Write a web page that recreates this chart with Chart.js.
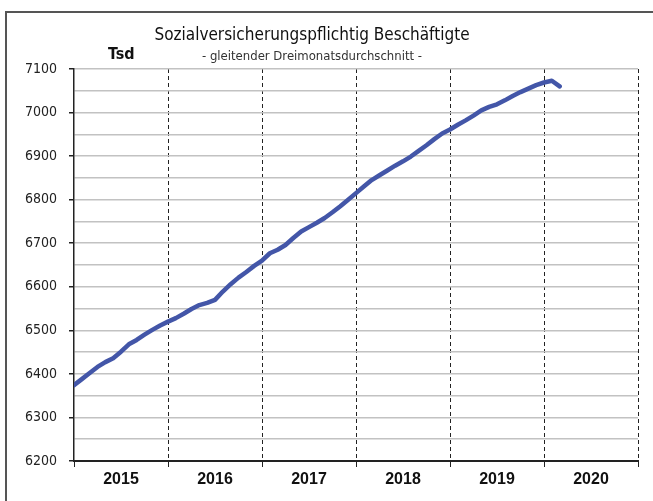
<!DOCTYPE html>
<html>
<head>
<meta charset="utf-8">
<script src="https://cdn.jsdelivr.net/npm/chart.js@4/dist/chart.umd.min.js"></script>
<style>
  html, body { margin: 0; padding: 0; background: #fff; overflow: hidden; }
  #wrap { position: relative; width: 653px; height: 501px; }
  #frame { position: absolute; left: 5px; top: 11px; width: 700px; height: 600px; border: 2px solid #555; box-sizing: border-box; }
  #chart { position: absolute; left: 0; top: 0; }
  .txt { position: absolute; white-space: nowrap; color: #111; font-family: "Liberation Sans Narrow", "DejaVu Sans Condensed", sans-serif; }
  #title { left: 0; width: 624px; text-align: center; top: 24px; font-size: 17px; }
  #sub { left: 0; width: 624px; text-align: center; top: 48px; font-size: 13px; color: #333; }
  #unit { left: 108px; top: 44px; font-size: 16px; font-weight: bold; }
</style>
</head>
<body>
<div id="wrap">
  <div id="frame"></div>
  <canvas id="chart" width="653" height="501"></canvas>
  <div class="txt" id="title">Sozialversicherungspflichtig Beschäftigte</div>
  <div class="txt" id="sub">- gleitender Dreimonatsdurchschnitt -</div>
  <div class="txt" id="unit">Tsd</div>
</div>
<script>
    // monthly values (Tsd), Jan 2015 .. Mar 2020
    const employed = [
        6374, 6388, 6402, 6416, 6427, 6436, 6451, 6468, 6478, 6490, 6501, 6511,
        6520, 6528, 6538, 6549, 6558, 6563, 6570, 6589, 6606, 6621, 6634, 6648,
        6660, 6677, 6685, 6696, 6712, 6727, 6737, 6747, 6758, 6771, 6785, 6800,
        6815, 6830, 6845, 6856, 6867, 6878, 6888, 6899, 6912, 6925, 6939, 6952,
        6961, 6972, 6982, 6993, 7005, 7013, 7019, 7028, 7038, 7047, 7055, 7063,
        7069, 7073, 7060
    ];
    const years = ['2015', '2016', '2017', '2018', '2019', '2020'];
    const yMin = 6200;
    const yMax = 7100;
    const yStep = 50;
    const yLabelStep = 100;

    const points = employed.map((v, i) => ({ x: i, y: v }));
    const monthsTotal = years.length * 12;

    new Chart(document.getElementById('chart'), {
        type: 'line',
        data: {
            datasets: [{
                data: points,
                borderColor: '#4356a8',
                borderWidth: 4.5,
                pointRadius: 0,
                tension: 0,
                borderCapStyle: 'round',
                borderJoinStyle: 'round',
                fill: false
            }]
        },
        options: {
            responsive: false,
            animation: false,
            layout: { padding: { top: 69, right: 15, left: 0, bottom: 0 } },
            plugins: { legend: { display: false }, tooltip: { enabled: false } },
            scales: {
                x: {
                    type: 'linear',
                    min: 0,
                    max: monthsTotal,
                    afterBuildTicks: scale => {
                        const t = [];
                        for (let m = 0; m <= monthsTotal; m += 6) t.push({ value: m });
                        scale.ticks = t;
                    },
                    afterFit: scale => { scale.height = 40; },
                    ticks: {
                        autoSkip: false,
                        maxRotation: 0,
                        minRotation: 0,
                        padding: 3,
                        color: '#111',
                        font: { family: 'Liberation Sans, Arial, sans-serif', size: 16, weight: 'bold' },
                        callback: v => (v % 12 === 6 ? years[(v - 6) / 12] : '')
                    },
                    grid: {
                        color: ctx => (ctx.tick && ctx.tick.value % 12 === 0 && ctx.tick.value > 0 ? '#222' : 'rgba(0,0,0,0)'),
                        tickColor: ctx => (ctx.tick && ctx.tick.value % 12 === 0 ? '#222' : 'rgba(0,0,0,0)'),
                        lineWidth: 1,
                        tickLength: 6
                    },
                    border: {
                        display: true,
                        color: '#222',
                        width: 2,
                        dash: ctx => (ctx.tick ? [4, 3] : [])
                    }
                },
                y: {
                    min: yMin,
                    max: yMax,
                    afterBuildTicks: scale => {
                        const t = [];
                        for (let v = yMin; v <= yMax; v += yStep) t.push({ value: v });
                        scale.ticks = t;
                    },
                    afterFit: scale => { scale.width = 74; },
                    ticks: {
                        autoSkip: false,
                        padding: 12,
                        color: '#222',
                        font: { family: 'Liberation Sans Narrow, DejaVu Sans Condensed, sans-serif', size: 14 },
                        callback: v => (v % yLabelStep === 0 ? String(v) : '')
                    },
                    grid: {
                        color: '#c2c2c2',
                        lineWidth: 1.5,
                        tickColor: ctx => (ctx.tick && ctx.tick.value % yLabelStep === 0 ? '#222' : 'rgba(0,0,0,0)'),
                        tickLength: 5
                    },
                    border: { display: true, color: '#222', width: 1.5 }
                }
            }
        }
    });
</script>
</body>
</html>
